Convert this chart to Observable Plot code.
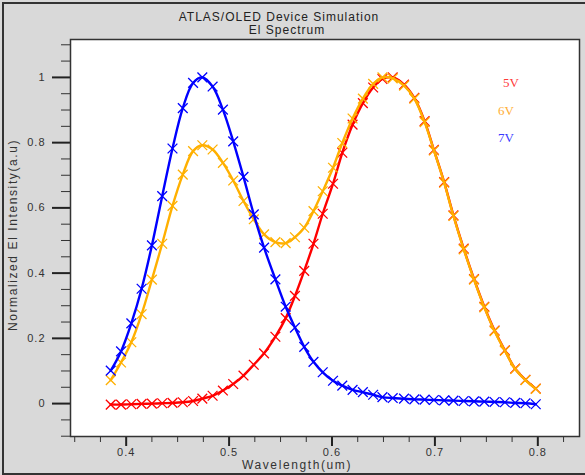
<!DOCTYPE html>
<html>
<head>
<meta charset="utf-8">
<script src="https://cdn.jsdelivr.net/npm/d3@7"></script>
<script src="https://cdn.jsdelivr.net/npm/@observablehq/plot@0.6"></script>
<style>
  html, body { margin: 0; padding: 0; background: #ffffff; }
  #wrap { position: relative; width: 585px; height: 475px; background: #d9d9d9; overflow: hidden;
          font-family: "Liberation Sans", Arial, sans-serif; color: #222; }
  #border { position: absolute; left: 2px; top: 2px; width: 600px; height: 469px;
            border-left: 2px solid #333; border-top: 2px solid #333; border-bottom: 2px solid #333; }
  #chart { position: absolute; left: 0; top: 0; }
  .lbl { position: absolute; white-space: nowrap; transform: translate(-50%, -50%); line-height: 1; }
  .title { font-size: 12px; letter-spacing: 1px; color: #222; }
  .axl { font-size: 12px; letter-spacing: 1.6px; color: #333; }
  .leg { position: absolute; font-family: "Liberation Serif", "DejaVu Serif", serif; font-size: 13px; line-height: 1; }
  svg [aria-label="y-axis tick label"] text, svg [aria-label="x-axis tick label"] text { letter-spacing: 1px; }
</style>
</head>
<body>
<div id="wrap">
  <div id="chart"></div>
  <div id="border"></div>
  <div class="lbl title" style="left:279px; top:16.5px;">ATLAS/OLED Device Simulation</div>
  <div class="lbl title" style="left:287px; top:30px;">El Spectrum</div>
  <div class="lbl axl" style="left:297px; top:465px;">Wavelength(um)</div>
  <div class="lbl axl" style="left:13px; top:235px; transform: translate(-50%, -50%) rotate(-90deg);">Normalized El Intensity(a.u)</div>
  <div id="legend"></div>
</div>
<script>
// ---- data ----
const wavelength = [0.385, 0.395, 0.405, 0.415, 0.425, 0.435, 0.445, 0.455, 0.465, 0.474,
  0.484, 0.494, 0.504, 0.514, 0.524, 0.534, 0.545, 0.555, 0.564, 0.573,
  0.582, 0.591, 0.601, 0.610, 0.620, 0.630, 0.640, 0.649, 0.659, 0.670,
  0.680, 0.690, 0.699, 0.709, 0.718, 0.728, 0.738, 0.748, 0.758, 0.768,
  0.778, 0.788, 0.798];

const v5 = [-0.003, -0.003, -0.002, -0.001, 0.000, 0.001, 0.002, 0.004, 0.008, 0.015,
  0.024, 0.040, 0.060, 0.086, 0.119, 0.154, 0.205, 0.262, 0.330, 0.407,
  0.490, 0.582, 0.674, 0.769, 0.855, 0.921, 0.969, 0.995, 1.000, 0.978,
  0.937, 0.866, 0.778, 0.679, 0.577, 0.475, 0.382, 0.297, 0.224, 0.163,
  0.107, 0.073, 0.046];

const v6 = [0.072, 0.126, 0.188, 0.274, 0.380, 0.490, 0.606, 0.702, 0.774, 0.792,
  0.779, 0.738, 0.684, 0.621, 0.565, 0.519, 0.495, 0.492, 0.510, 0.539,
  0.590, 0.651, 0.723, 0.799, 0.874, 0.935, 0.980, 1.000, 0.997, 0.975,
  0.935, 0.863, 0.776, 0.677, 0.575, 0.473, 0.380, 0.295, 0.222, 0.162,
  0.106, 0.072, 0.045];

const v7 = [0.101, 0.160, 0.246, 0.352, 0.485, 0.636, 0.782, 0.906, 0.983, 1.000,
  0.972, 0.901, 0.804, 0.695, 0.580, 0.478, 0.381, 0.297, 0.233, 0.174,
  0.128, 0.096, 0.070, 0.055, 0.042, 0.035, 0.027, 0.020, 0.017, 0.015,
  0.013, 0.012, 0.011, 0.010, 0.009, 0.008, 0.007, 0.006, 0.005, 0.004,
  0.002, 0.001, -0.002];

const seriesNames = ["5V", "6V", "7V"];
const seriesColors = ["#ff0000", "#ffb000", "#0000ff"];
const legendColors = ["#ff3a3a", "#ffad33", "#3a3aff"];

const yMajor = [0, 0.2, 0.4, 0.6, 0.8, 1];
const yMinor = [-0.1, -0.05, 0.05, 0.1, 0.15, 0.25, 0.3, 0.35, 0.45, 0.5, 0.55, 0.65, 0.7, 0.75, 0.85, 0.9, 0.95, 1.05, 1.1];
const xMajor = [0.4, 0.5, 0.6, 0.7, 0.8];
const xMinor = [0.35, 0.375, 0.425, 0.45, 0.475, 0.525, 0.55, 0.575, 0.625, 0.65, 0.675, 0.725, 0.75, 0.775, 0.825];

// ---- build table ----
const seriesValues = [v5, v6, v7];
const rows = seriesNames.map((s, i) => wavelength.map((x, j) => ({x, y: seriesValues[i][j], s})));
const fmt = d3.format("~g");

const marks = [
  Plot.frame({fill: "white", stroke: null}),
  Plot.axisY({ticks: yMinor, tickSize: 9, tickFormat: () => "", label: null, stroke: "#333", strokeWidth: 1}),
  Plot.axisY({ticks: yMajor, tickSize: 18, tickPadding: 7, label: null, stroke: "#222", strokeWidth: 2, fill: "#333", tickFormat: fmt}),
  Plot.axisX({ticks: xMinor, tickSize: 6, tickFormat: () => "", label: null, stroke: "#333", strokeWidth: 1}),
  Plot.axisX({ticks: xMajor, tickSize: 10, tickPadding: 2, label: null, stroke: "#222", strokeWidth: 2, fill: "#333", tickFormat: fmt})
];
rows.forEach((data, i) => {
  marks.push(Plot.line(data, {x: "x", y: "y", stroke: seriesColors[i], strokeWidth: 2.4, curve: "catmull-rom"}));
  marks.push(Plot.dot(data, {x: "x", y: "y", stroke: seriesColors[i], symbol: "times", r: 4.5, strokeWidth: 1.3}));
});
marks.push(Plot.frame({stroke: "#333", strokeWidth: 1.5}));

const chart = Plot.plot({
  width: 585,
  height: 475,
  marginLeft: 70,
  marginRight: 6,
  marginTop: 39,
  marginBottom: 39,
  x: {domain: [0.3459, 0.8405]},
  y: {domain: [-0.1009, 1.1162]},
  style: {background: "transparent", fontFamily: "Liberation Sans, Arial, sans-serif", fontSize: "11px", color: "#333", overflow: "visible"},
  marks
});
document.getElementById("chart").appendChild(chart);

// legend text
const legendPos = [[503, 76], [498, 104], [498, 131]];
const legend = document.getElementById("legend");
seriesNames.forEach((name, i) => {
  const d = document.createElement("div");
  d.className = "leg";
  d.textContent = name;
  d.style.left = legendPos[i][0] + "px";
  d.style.top = legendPos[i][1] + "px";
  d.style.color = legendColors[i];
  legend.appendChild(d);
});
</script>
</body>
</html>
